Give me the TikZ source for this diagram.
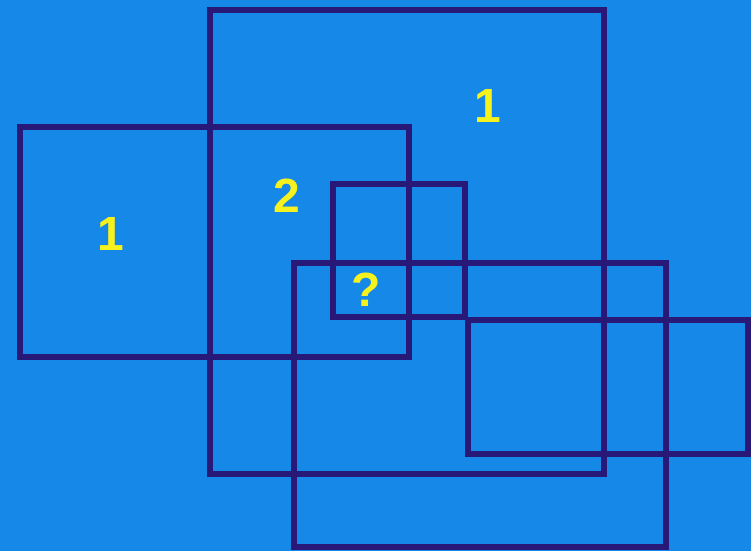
\documentclass[tikz,border=0pt]{standalone}
\usepackage{fontspec}
\setmainfont{Liberation Sans}
\definecolor{bgblue}{RGB}{22,136,232}
\definecolor{navy}{RGB}{40,24,120}
\definecolor{lblyellow}{RGB}{246,242,30}
\tikzset{
  frame/.style={draw=navy, line width=6pt, line join=miter},
  lbl/.style={text=lblyellow, font=\bfseries\fontsize{48}{48}\selectfont, inner sep=0pt}
}
\begin{document}
\begin{tikzpicture}[x=1pt,y=-1pt]
\fill[bgblue] (0,0) rectangle (751,551);
\useasboundingbox (0,0) rectangle (751,551);
\draw[frame] (210,10) rectangle (604,474);
\draw[frame] (20,127) rectangle (409,357);
\draw[frame] (333,184) rectangle (465,317);
\draw[frame] (294,263) rectangle (666,547);
\draw[frame] (468,320) rectangle (748,454);
\node[lbl] (one left) at (111,234) {1};
\node[lbl] (two) at (287,196) {2};
\node[lbl] (one right) at (488,106) {1};
\node[lbl] (question) at (366,290) {?};
\end{tikzpicture}
\end{document}
